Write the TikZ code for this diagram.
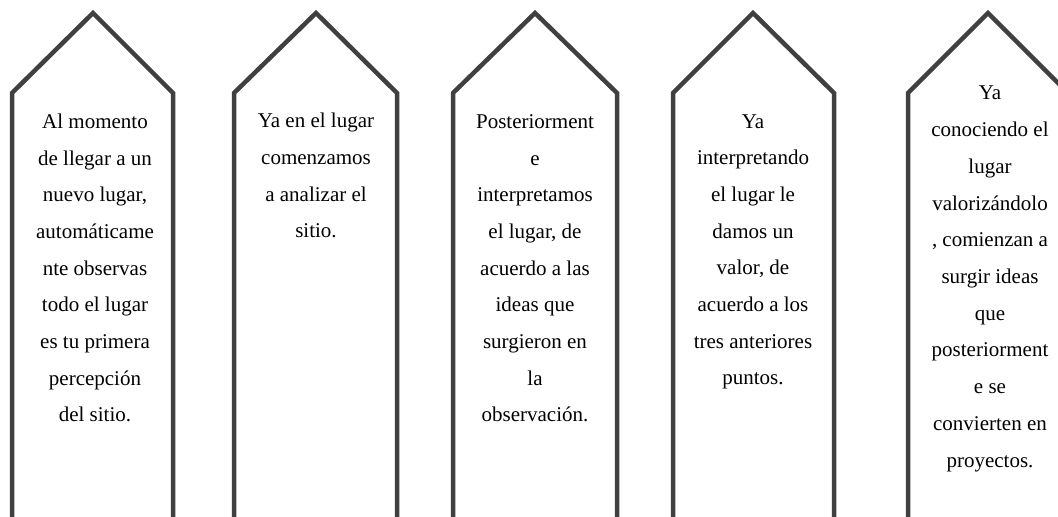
\documentclass[tikz,border=0pt]{standalone}
\usepackage{fontspec}
\setmainfont{Liberation Serif}
\definecolor{casa}{HTML}{404040}
\begin{document}
\begin{tikzpicture}[x=0.5pt,y=-0.5pt,
  flecha/.style = {draw=casa, line width=2.25pt},
  texto/.style = {align=center, inner sep=0pt, anchor=base,
    font=\fontsize{10.5pt}{18.35pt}\selectfont}]
  \clip (0,0) rectangle (1058,517);
  % flechas hacia arriba, abiertas abajo
  \draw[flecha] (12,520) -- (12,93) -- (93,13) -- (173,93) -- (173,520);
  \draw[flecha] (234,520) -- (234,93) -- (316,13) -- (397,93) -- (397,520);
  \draw[flecha] (453,520) -- (453,93) -- (535,13) -- (617,93) -- (617,520);
  \draw[flecha] (673,520) -- (673,93) -- (753,13) -- (834,93) -- (834,520);
  \draw[flecha] (908,520) -- (908,93) -- (988,13) -- (1068,93) -- (1068,520);
  % el ancla base cae en la ultima linea
  \node[texto] (1) at (95,422) {Al momento\\de llegar a un\\nuevo lugar,\\automáticame\\nte observas\\todo el lugar\\es tu primera\\percepción\\del sitio.};
  \node[texto] (2) at (316,238) {Ya en el lugar\\comenzamos\\a analizar el\\sitio.};
  \node[texto] (3) at (535,422) {Posteriorment\\e\\interpretamos\\el lugar, de\\acuerdo a las\\ideas que\\surgieron en\\la\\observación.};
  \node[texto] (4) at (753,385) {Ya\\interpretando\\el lugar le\\damos un\\valor, de\\acuerdo a los\\tres anteriores\\puntos.};
  \node[texto] (5) at (990,467) {Ya\\conociendo el\\lugar\\valorizándolo\\, comienzan a\\surgir ideas\\que\\posteriorment\\e se\\convierten en\\proyectos.};
\end{tikzpicture}
\end{document}
